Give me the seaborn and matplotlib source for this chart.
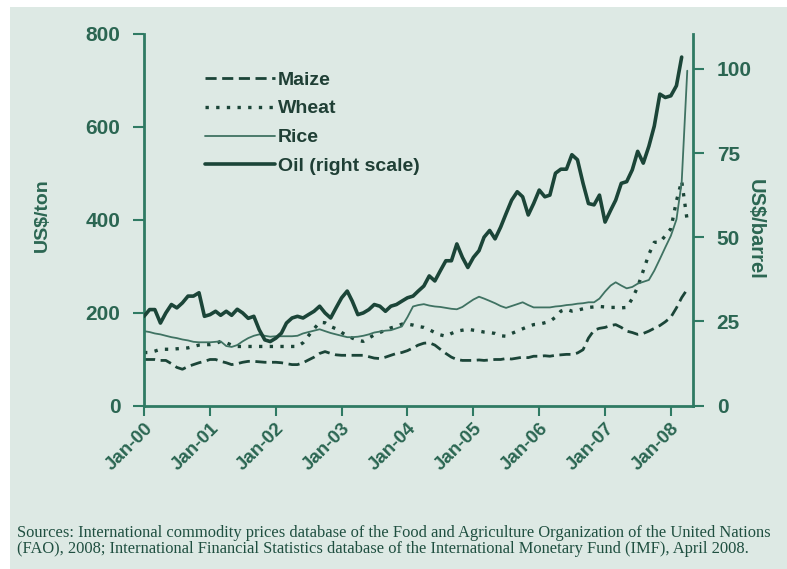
import pandas as pd
import matplotlib.pyplot as plt
import matplotlib.dates as mdates
from matplotlib.patches import Rectangle
import seaborn as sns

# monthly prices, Jan 2000 onwards (US$/ton for crops, US$/barrel for oil)
maize = [99, 99, 99, 97, 97, 90, 82, 78, 84, 88, 92, 95,
         99, 99, 95, 92, 88, 90, 93, 95, 95, 94, 93, 93,
         93, 92, 90, 88, 88, 92, 98, 104, 112, 116, 112, 109,
         108, 108, 108, 108, 108, 105, 102, 101, 104, 108, 112, 114,
         118, 124, 130, 134, 135, 130, 121, 112, 104, 99, 97, 97,
         97, 98, 97, 98, 99, 99, 101, 100, 102, 104, 103, 106,
         106, 107, 106, 108, 109, 110, 110, 113, 120, 145, 162, 166,
         168, 172, 174, 168, 160, 157, 153, 155, 160, 166, 172, 180,
         190, 210, 232, 250]
wheat = [114, 114, 117, 121, 121, 121, 122, 123, 124, 127, 130, 131,
         131, 133, 138, 135, 130, 127, 127, 127, 127, 127, 127, 127,
         127, 127, 127, 127, 127, 135, 150, 165, 179, 178, 170, 165,
         157, 150, 145, 140, 138, 145, 152, 157, 162, 167, 170, 175,
         175, 173, 170, 168, 163, 157, 152, 149, 155, 160, 162, 164,
         162, 160, 158, 157, 155, 150, 149, 155, 160, 165, 170, 174,
         175, 178, 181, 190, 203, 207, 203, 205, 208, 211, 212, 213,
         212, 211, 211, 210, 211, 230, 255, 290, 325, 351, 351, 365,
         380, 440, 483, 397]
rice = [160, 158, 155, 153, 150, 147, 145, 142, 140, 137, 136, 136,
        136, 137, 138, 128, 126, 130, 138, 145, 150, 153, 150, 148,
        149, 149, 149, 149, 150, 155, 158, 161, 164, 160, 156, 153,
        150, 147, 147, 148, 150, 153, 157, 159, 161, 162, 166, 170,
        190, 213, 216, 218, 215, 213, 212, 210, 208, 207, 212, 220,
        228, 234, 230, 225, 220, 214, 210, 214, 218, 222, 216, 211,
        211, 211, 211, 213, 214, 216, 217, 219, 220, 222, 222, 230,
        245, 258, 265, 258, 252, 255, 262, 266, 270, 290, 315, 340,
        365, 400, 480, 720]
oil = [26.5, 28.5, 28.5, 24.5, 27.5, 30, 29, 30.5, 32.5, 32.5, 33.5, 26.5,
       27, 28, 26.8, 28, 26.8, 28.6, 27.5, 25.9, 26.5, 22.5, 19.5, 19,
       20, 21.5, 24.5, 26, 26.5, 26, 27, 28, 29.5, 27.5, 26, 29,
       32, 34, 31, 27, 27.5, 28.5, 30, 29.5, 28, 29.5, 30, 31,
       32, 32.5, 34, 35.5, 38.5, 37, 40, 43, 43, 48, 44, 41,
       44, 46, 50, 52, 49.5, 53, 57, 61, 63.5, 62, 56.6, 60,
       64, 62, 62.5, 69, 70.2, 70.2, 74.5, 73, 66, 60, 59.6, 62.5,
       54.5, 58, 61, 66, 66.5, 70, 75.5, 72, 77, 83, 92.5, 91.5,
       92, 95, 103.5]

crops = pd.DataFrame({
    'date': pd.date_range('2000-01-01', periods=len(maize), freq='MS'),
    'Maize': maize, 'Wheat': wheat, 'Rice': rice})
oil_df = pd.DataFrame({
    'date': pd.date_range('2000-01-01', periods=len(oil), freq='MS'),
    'Oil': oil})

bg = '#dde9e4'
txt = '#2b6652'
spine = '#2f7a63'
dark = '#1b4538'

sns.set_theme(style='ticks')
plt.rcParams['font.family'] = ['Liberation Sans', 'DejaVu Sans']

fig = plt.figure(figsize=(7.87, 5.69), dpi=100)
fig.patch.set_facecolor('white')
fig.patches.append(Rectangle((10 / 787, 0), 1, 1 - 7 / 569, transform=fig.transFigure,
                             facecolor=bg, edgecolor='none', zorder=-1))

ax = fig.add_axes([0.183, 0.2873, 0.6976, 0.6538])
ax.set_facecolor('none')
ax2 = ax.twinx()

sns.lineplot(data=crops, x='date', y='Maize', ax=ax, color=dark, lw=2,
             linestyle=(0, (4, 2)), label='Maize')
sns.lineplot(data=crops, x='date', y='Wheat', ax=ax, color=dark, lw=2.4,
             linestyle=(0, (1, 2.2)), label='Wheat')
sns.lineplot(data=crops, x='date', y='Rice', ax=ax, color='#3f7262', lw=1.3,
             label='Rice')
sns.lineplot(data=oil_df, x='date', y='Oil', ax=ax2, color=dark, lw=2.6,
             label='Oil (right scale)')

ax.set_xlim(pd.Timestamp('2000-01-01'), pd.Timestamp('2008-05-03'))
ax.set_ylim(0, 800)
ax.set_yticks([0, 200, 400, 600, 800])
ax2.set_ylim(0, 110.5)
ax2.set_yticks([0, 25, 50, 75, 100])

ax.xaxis.set_major_locator(mdates.YearLocator())
ax.xaxis.set_major_formatter(mdates.DateFormatter('Jan-%y'))

for a in (ax, ax2):
    a.spines['top'].set_visible(False)
    for s in a.spines.values():
        s.set_color(spine)
        s.set_linewidth(2)
    a.tick_params(colors=spine, labelcolor=txt, labelsize=15, width=1.5, length=8, pad=9)
    a.set_xlabel('')
ax2.spines['left'].set_visible(False)
ax.spines['right'].set_visible(False)
ax2.spines['bottom'].set_visible(False)
ax.tick_params(axis='x', labelsize=13.5, length=7, pad=3)
plt.setp(ax.get_xticklabels(), rotation=45, ha='right', rotation_mode='anchor')
for lab in ax.get_xticklabels() + ax.get_yticklabels() + ax2.get_yticklabels():
    lab.set_fontweight('bold')

ax.set_ylabel('US$/ton', color=txt, fontsize=14, fontweight='bold')
ax.yaxis.set_label_coords(-0.169, 0.512)
ax2.set_ylabel('US$/barrel', color=txt, fontsize=14.5, fontweight='bold',
               rotation=270, va='center', ha='center')
ax2.yaxis.set_label_coords(1.113, 0.474)

if ax2.get_legend():
    ax2.get_legend().remove()
h1, l1 = ax.get_legend_handles_labels()
h2, l2 = ax2.get_legend_handles_labels()
leg = ax.legend(h1 + h2, l1 + l2, loc='upper left',
                bbox_to_anchor=(205 / 787, 1 - 71 / 569), bbox_transform=fig.transFigure,
                frameon=False, prop={'size': 14, 'weight': 'bold'}, handlelength=3.6,
                handletextpad=0.15, labelspacing=0.58, borderaxespad=0, borderpad=0)
for t in leg.get_texts():
    t.set_color('#1f3f35')

fig.text(17 / 787, 1 - 541 / 569,
         'Sources: International commodity prices database of the Food and Agriculture Organization of the United Nations\n'
         '(FAO), 2008; International Financial Statistics database of the International Monetary Fund (IMF), April 2008.',
         family='Liberation Serif', fontsize=11.9, color='#1f4f40', va='center', linespacing=0.95)

fig.savefig('out.png', dpi=100, facecolor=fig.get_facecolor())
